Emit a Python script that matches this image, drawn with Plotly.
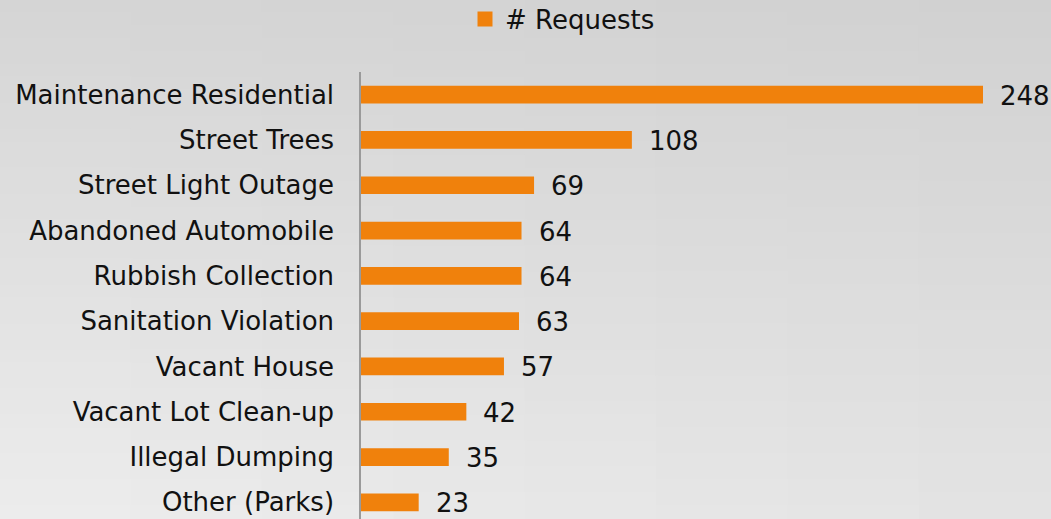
import plotly.graph_objects as go

categories = ["Maintenance Residential", "Street Trees", "Street Light Outage",
              "Abandoned Automobile", "Rubbish Collection", "Sanitation Violation",
              "Vacant House", "Vacant Lot Clean-up", "Illegal Dumping", "Other (Parks)"]
requests = [248, 108, 69, 64, 64, 63, 57, 42, 35, 23]
series_name = "# Requests"

W, H = 1051, 519
L, T = 361, 72
PW, PH = W - L, H - T

BAR = "#F0810C"
FONT = "DejaVu Sans, Verdana, sans-serif"
FS = 26

fig = go.Figure()
fig.add_trace(go.Bar(
    y=categories, x=requests, orientation="h", name=series_name,
    marker=dict(color=BAR, line=dict(width=0)), width=0.39,
    hoverinfo="x+y", showlegend=False,
))
# legend entry (square symbol like the reference)
fig.add_trace(go.Scatter(
    x=[None], y=[None], mode="markers", name=series_name,
    marker=dict(symbol="square", size=15, color=BAR), showlegend=True,
))

# value labels
for c, v in zip(categories, requests):
    fig.add_annotation(x=v, y=c, text=str(v), showarrow=False, xanchor="left",
                       xshift=15, yshift=-1, font=dict(size=FS, color="#111111", family=FONT))

# background gradient (styling)
def px2x(px):
    return (px - L) / PW

def py2y(py):
    return (H - py) / PH

shapes = []
NR, NC = 40, 8
for i in range(NR):
    for j in range(NC):
        u = (j + 0.5) / NC
        v = (i + 0.5) / NR
        c = 213 - 4 * u + 24 * v - 6 * u * v
        c = int(round(c))
        col = f"rgb({c},{c},{c})"
        x0 = j * W / NC - 1
        x1 = (j + 1) * W / NC + 1
        y0 = i * H / NR - 1
        y1 = (i + 1) * H / NR + 1
        shapes.append(dict(type="rect", xref="paper", yref="paper", layer="below",
                           x0=px2x(x0), x1=px2x(x1), y0=py2y(y1), y1=py2y(y0),
                           fillcolor=col, line=dict(width=0)))

fig.update_layout(
    width=W, height=H,
    margin=dict(l=L, r=0, t=T, b=0, pad=0, autoexpand=False),
    paper_bgcolor="#dedede", plot_bgcolor="rgba(0,0,0,0)",
    font=dict(family=FONT, size=FS, color="#111111"),
    shapes=shapes,
    showlegend=True,
    legend=dict(orientation="h", xref="container", yref="container",
                x=465 / W, xanchor="left", y=1 - 19 / H, yanchor="middle",
                bgcolor="rgba(0,0,0,0)", borderwidth=0,
                font=dict(size=FS, color="#111111", family=FONT),
                itemclick=False, itemdoubleclick=False),
    bargap=0.61,
)
fig.update_xaxes(range=[0, PW / ((983 - 361) / 248)], visible=False, showgrid=False, zeroline=False)
fig.update_yaxes(categoryorder="array", categoryarray=categories,
                 range=[9.5 - (10 - PH / 45.3), -0.5],
                 showline=True, linecolor="#9a9a9a", linewidth=1.5,
                 showgrid=False, zeroline=False, ticks="", ticklabelstandoff=20,
                 tickfont=dict(size=FS, color="#111111", family=FONT))

fig.write_html("out.html", config={"displayModeBar": False},
               post_script="document.body.style.margin='0px';document.body.style.overflow='hidden';")
